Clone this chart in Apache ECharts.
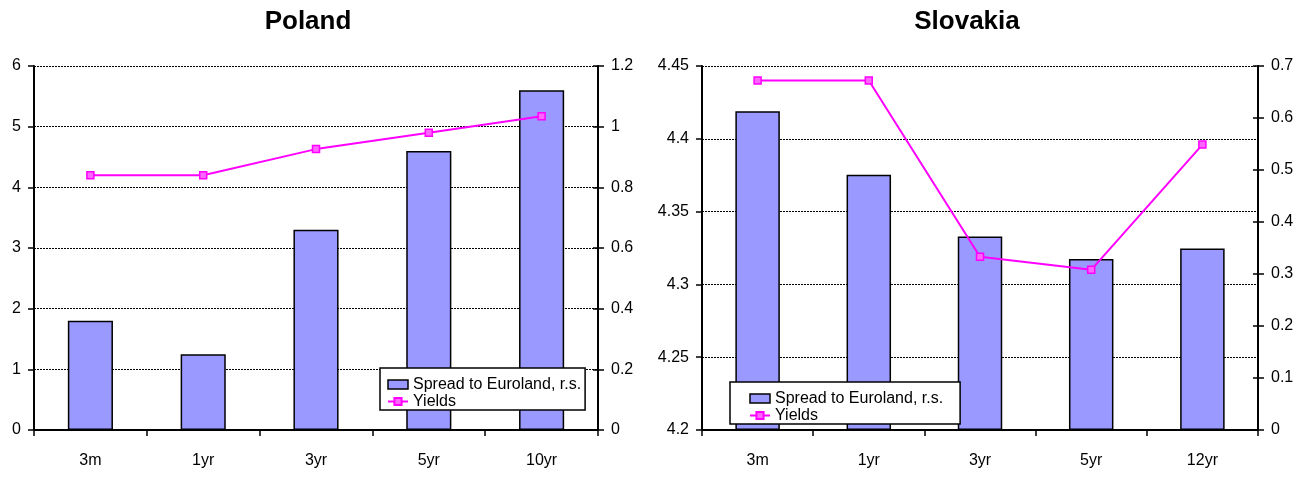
<!DOCTYPE html>
<html>
<head>
<meta charset="utf-8">
<title>Poland / Slovakia yield curves</title>
<script src="https://cdn.jsdelivr.net/npm/echarts@6/dist/echarts.min.js"></script>
<style>
  html, body { margin: 0; padding: 0; background: #fff; }
  #chart { width: 1306px; height: 495px; }
</style>
</head>
<body>
<div id="chart"></div>
<script>
// Maturities on the category axes
const plCategories = ['3m', '1yr', '3yr', '5yr', '10yr'];
const skCategories = ['3m', '1yr', '3yr', '5yr', '12yr'];

// Poland: yields (left scale, %) and spread to Euroland (right scale)
const plYields = [4.2, 4.2, 4.63, 4.9, 5.17];
const plSpread = [0.36, 0.25, 0.66, 0.92, 1.12];

// Slovakia: yields (left scale, %) and spread to Euroland (right scale)
const skYields = [4.44, 4.44, 4.319, 4.31, 4.396];
const skSpread = [0.613, 0.491, 0.372, 0.329, 0.349];

// Axis ranges
const plLeftAxis = { min: 0, max: 6, interval: 1 };
const plRightAxis = { min: 0, max: 1.2, interval: 0.2 };
const skLeftAxis = { min: 4.2, max: 4.45, interval: 0.05 };
const skRightAxis = { min: 0, max: 0.7, interval: 0.1 };

const titles = ['Poland', 'Slovakia'];
const seriesNames = ['Spread to Euroland, r.s.', 'Yields'];

const FONT = '"Liberation Sans", Arial, sans-serif';
const BAR_COLOR = '#9999ff';
const LINE_COLOR = '#ff00ff';
const AXIS_FONT_SIZE = 16;

const chart = echarts.init(document.getElementById('chart'), null, { renderer: 'canvas' });

function fmt(v) {
  return String(parseFloat(v.toFixed(4)));
}

function categoryAxis(gridIndex, data) {
  return {
    type: 'category',
    gridIndex: gridIndex,
    data: data,
    boundaryGap: true,
    axisLine: { show: true, lineStyle: { color: '#000', width: 2 } },
    axisTick: { show: true, alignWithLabel: false, length: 6, lineStyle: { color: '#000', width: 1.5 } },
    axisLabel: { color: '#000', fontFamily: FONT, fontSize: AXIS_FONT_SIZE, margin: 23 },
    splitLine: { show: false }
  };
}

function leftValueAxis(gridIndex, range) {
  return {
    type: 'value',
    gridIndex: gridIndex,
    position: 'left',
    min: range.min, max: range.max, interval: range.interval,
    axisLine: { show: true, lineStyle: { color: '#000', width: 2 } },
    axisTick: { show: true, length: 6, lineStyle: { color: '#000', width: 1.5 } },
    axisLabel: { color: '#000', fontFamily: FONT, fontSize: AXIS_FONT_SIZE, margin: 13, formatter: fmt },
    splitLine: { show: true, lineStyle: { color: '#000', width: 1, type: [2, 1] } }
  };
}

function rightValueAxis(gridIndex, range) {
  return {
    type: 'value',
    gridIndex: gridIndex,
    position: 'right',
    min: range.min, max: range.max, interval: range.interval,
    axisLine: { show: true, lineStyle: { color: '#000', width: 2 } },
    axisTick: { show: true, length: 6, lineStyle: { color: '#000', width: 1.5 } },
    axisLabel: { color: '#000', fontFamily: FONT, fontSize: AXIS_FONT_SIZE, margin: 13, formatter: fmt },
    splitLine: { show: false }
  };
}

// inner half of the crossing ticks on the right-hand scale
function rightInnerTicks(gridIndex, range) {
  return {
    type: 'value',
    gridIndex: gridIndex,
    position: 'right',
    min: range.min, max: range.max, interval: range.interval,
    axisLine: { show: false },
    axisTick: { show: true, inside: true, length: 5, lineStyle: { color: '#000', width: 1.5 } },
    axisLabel: { show: false },
    splitLine: { show: false }
  };
}

function barSeries(xi, yi, data) {
  return {
    name: seriesNames[0],
    type: 'bar',
    xAxisIndex: xi,
    yAxisIndex: yi,
    data: data,
    barWidth: '40%',
    itemStyle: { color: BAR_COLOR, borderColor: '#000', borderWidth: 1.5 },
    emphasis: { disabled: true },
    z: 2
  };
}

function lineSeries(xi, yi, data) {
  return {
    name: seriesNames[1],
    type: 'line',
    xAxisIndex: xi,
    yAxisIndex: yi,
    data: data,
    symbol: 'rect',
    symbolSize: 7,
    showAllSymbol: true,
    lineStyle: { color: LINE_COLOR, width: 2 },
    itemStyle: { color: '#ff66ff', borderColor: LINE_COLOR, borderWidth: 1.5 },
    emphasis: { disabled: true },
    z: 3
  };
}

function legendAt(left, top, padding) {
  return {
    orient: 'vertical',
    left: left,
    top: top,
    padding: padding,
    itemGap: 0,
    itemWidth: 20,
    itemHeight: 9,
    backgroundColor: '#fff',
    borderColor: '#000',
    borderWidth: 1.5,
    selectedMode: false,
    textStyle: { color: '#000', fontFamily: FONT, fontSize: 16, lineHeight: 17 },
    data: [
      { name: seriesNames[0], icon: 'rect', itemStyle: { color: BAR_COLOR, borderColor: '#000', borderWidth: 1.5 } },
      { name: seriesNames[1] }
    ]
  };
}

const option = {
  animation: false,
  backgroundColor: '#fff',
  textStyle: { fontFamily: FONT },
  graphic: [
    {
      type: 'text', x: 308, y: 22,
      style: { text: titles[0], fill: '#000', font: 'bold 26px ' + FONT, textAlign: 'center', textVerticalAlign: 'middle' }
    },
    {
      type: 'text', x: 967, y: 22,
      style: { text: titles[1], fill: '#000', font: 'bold 26px ' + FONT, textAlign: 'center', textVerticalAlign: 'middle' }
    }
  ],
  legend: [
    legendAt(380, 368, [8, 4, 0, 7]),
    legendAt(730, 382, [8, 17, 0, 19])
  ],
  grid: [
    { left: 34, top: 66, width: 564, height: 364, containLabel: false },
    { left: 702, top: 66, width: 556, height: 364, containLabel: false }
  ],
  xAxis: [
    categoryAxis(0, plCategories),
    categoryAxis(1, skCategories)
  ],
  yAxis: [
    leftValueAxis(0, plLeftAxis),      // 0
    rightValueAxis(0, plRightAxis),    // 1
    rightInnerTicks(0, plRightAxis),   // 2
    leftValueAxis(1, skLeftAxis),      // 3
    rightValueAxis(1, skRightAxis),    // 4
    rightInnerTicks(1, skRightAxis)    // 5
  ],
  series: [
    barSeries(0, 1, plSpread),
    lineSeries(0, 0, plYields),
    barSeries(1, 4, skSpread),
    lineSeries(1, 3, skYields)
  ]
};

chart.setOption(option);
</script>
</body>
</html>
